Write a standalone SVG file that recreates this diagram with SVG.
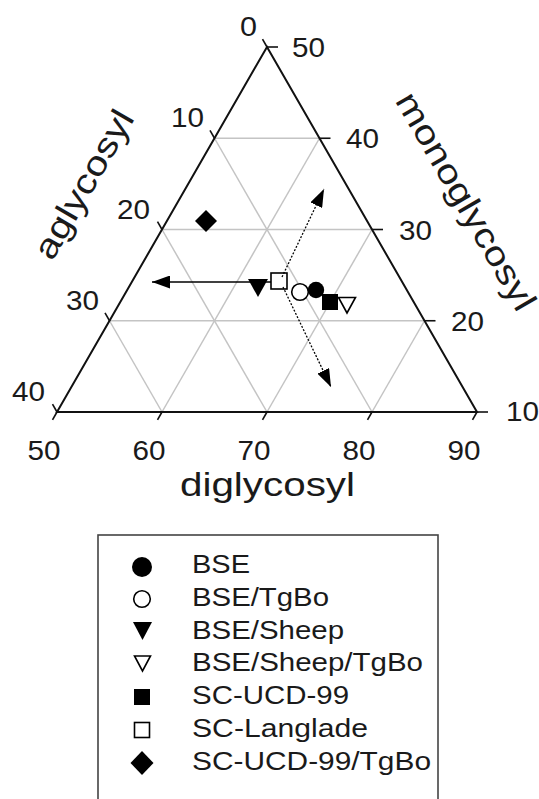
<svg xmlns="http://www.w3.org/2000/svg" width="539" height="799" viewBox="0 0 539 799">
<style>
.grid{stroke:#c4c4c4;stroke-width:1.5;fill:none}
.edge{stroke:#111;stroke-width:2;fill:none;stroke-linejoin:miter}
.tick{stroke:#111;stroke-width:1.6}
.num{font-family:"Liberation Sans",Arial,sans-serif;font-size:27px;fill:#1a1a1a}
.title{font-family:"Liberation Sans",Arial,sans-serif;font-size:34px;fill:#1a1a1a}
.title2{font-family:"Liberation Sans",Arial,sans-serif;font-size:33px;fill:#1a1a1a}
.leg{font-family:"Liberation Sans",Arial,sans-serif;font-size:26px;fill:#1a1a1a}
.fill{fill:#000;stroke:none}
.open{fill:#fff;stroke:#000;stroke-width:1.6}
.solid{stroke:#000;stroke-width:1.6;fill:none}
.dot{stroke:#000;stroke-width:1.3;fill:none;stroke-dasharray:2 1.6}
</style>
<defs>
<marker id="ah" markerUnits="userSpaceOnUse" markerWidth="18" markerHeight="13" refX="18" refY="6.5" orient="auto">
<path d="M0,0 L18,6.5 L0,13 z" fill="#000"/>
</marker>
</defs>
<rect width="539" height="799" fill="#fff"/>
<g id="grid">
<line class="grid" x1="109.5" y1="320.75" x2="424.5" y2="320.75"/>
<line class="grid" x1="162" y1="229.5" x2="372" y2="229.5"/>
<line class="grid" x1="214.5" y1="138.25" x2="319.5" y2="138.25"/>
<line class="grid" x1="162" y1="412" x2="319.5" y2="138.25"/>
<line class="grid" x1="267" y1="412" x2="372" y2="229.5"/>
<line class="grid" x1="372" y1="412" x2="424.5" y2="320.75"/>
<line class="grid" x1="162" y1="412" x2="109.5" y2="320.75"/>
<line class="grid" x1="267" y1="412" x2="162" y2="229.5"/>
<line class="grid" x1="372" y1="412" x2="214.5" y2="138.25"/>
</g>
<g id="axes">
<polygon class="edge" points="267,47 477,412 57,412"/>
<g id="ticks">
<line class="tick" x1="267" y1="47" x2="262.5" y2="39.2"/>
<line class="tick" x1="214.5" y1="138.25" x2="210" y2="130.45"/>
<line class="tick" x1="162" y1="229.5" x2="157.5" y2="221.7"/>
<line class="tick" x1="109.5" y1="320.75" x2="105" y2="312.95"/>
<line class="tick" x1="57" y1="412" x2="52.5" y2="404.2"/>
<line class="tick" x1="57" y1="412" x2="52.5" y2="419.8"/>
<line class="tick" x1="162" y1="412" x2="157.5" y2="419.8"/>
<line class="tick" x1="267" y1="412" x2="262.5" y2="419.8"/>
<line class="tick" x1="372" y1="412" x2="367.5" y2="419.8"/>
<line class="tick" x1="477" y1="412" x2="472.5" y2="419.8"/>
<line class="tick" x1="267" y1="47" x2="278" y2="47"/>
<line class="tick" x1="319.5" y1="138.25" x2="330.5" y2="138.25"/>
<line class="tick" x1="372" y1="229.5" x2="383" y2="229.5"/>
<line class="tick" x1="424.5" y1="320.75" x2="435.5" y2="320.75"/>
<line class="tick" x1="477" y1="412" x2="488" y2="412"/>
</g>
<g id="left-labels" text-anchor="end">
<text class="num" x="257" y="36" textLength="17" lengthAdjust="spacingAndGlyphs">0</text>
<text class="num" x="204" y="127" textLength="33" lengthAdjust="spacingAndGlyphs">10</text>
<text class="num" x="150" y="219" textLength="33" lengthAdjust="spacingAndGlyphs">20</text>
<text class="num" x="99" y="310" textLength="33" lengthAdjust="spacingAndGlyphs">30</text>
<text class="num" x="45" y="401" textLength="33" lengthAdjust="spacingAndGlyphs">40</text>
</g>
<g id="right-labels">
<text class="num" x="292" y="57" textLength="33" lengthAdjust="spacingAndGlyphs">50</text>
<text class="num" x="346" y="148" textLength="33" lengthAdjust="spacingAndGlyphs">40</text>
<text class="num" x="399" y="240" textLength="33" lengthAdjust="spacingAndGlyphs">30</text>
<text class="num" x="451" y="331" textLength="33" lengthAdjust="spacingAndGlyphs">20</text>
<text class="num" x="506" y="421" textLength="33" lengthAdjust="spacingAndGlyphs">10</text>
</g>
<g id="bottom-labels" text-anchor="middle">
<text class="num" x="44" y="460" textLength="33" lengthAdjust="spacingAndGlyphs">50</text>
<text class="num" x="149" y="460" textLength="33" lengthAdjust="spacingAndGlyphs">60</text>
<text class="num" x="254" y="460" textLength="33" lengthAdjust="spacingAndGlyphs">70</text>
<text class="num" x="359" y="460" textLength="33" lengthAdjust="spacingAndGlyphs">80</text>
<text class="num" x="464" y="460" textLength="33" lengthAdjust="spacingAndGlyphs">90</text>
</g>
<g id="axis-titles" text-anchor="middle">
<text class="title" transform="translate(93.7,190) rotate(-60)" x="0" y="0" textLength="166" lengthAdjust="spacingAndGlyphs">aglycosyl</text>
<text class="title" transform="translate(456,207) rotate(60)" x="0" y="0" textLength="246" lengthAdjust="spacingAndGlyphs">monoglycosyl</text>
<text class="title2" x="267.5" y="496" textLength="175" lengthAdjust="spacingAndGlyphs">diglycosyl</text>
</g>
</g>
<g id="points">
<g id="pt-sc-ucd-99-tgbo"><polygon class="fill" points="206,210 217,221 206,232 195,221"/></g>
<g id="pt-bse-sheep"><polygon class="fill" points="248,279 268,279 258,297"/></g>
<g id="pt-sc-langlade"><rect class="open" x="271" y="273" width="16" height="16"/></g>
<g id="pt-bse-tgbo"><circle class="open" cx="300" cy="292" r="8.3"/></g>
<g id="pt-bse"><circle class="fill" cx="316" cy="290" r="8.2"/></g>
<g id="pt-sc-ucd-99"><rect class="fill" x="322" y="294" width="16" height="16"/></g>
<g id="pt-bse-sheep-tgbo"><polygon class="open" points="338.5,297.5 355.5,297.5 347,313"/></g>
</g>
<g id="connectors">
<line class="solid" x1="271" y1="282" x2="152" y2="282" marker-end="url(#ah)"/>
<line class="dot" x1="282" y1="277" x2="324" y2="189" marker-end="url(#ah)"/>
<line class="dot" x1="283" y1="287" x2="331" y2="387" marker-end="url(#ah)"/>
</g>
<g id="legend">
<rect x="98" y="535" width="340" height="300" fill="#fff" stroke="#444" stroke-width="1.6"/>
<g id="leg-bse"><circle class="fill" cx="142" cy="567" r="10"/><text class="leg" x="192" y="573" textLength="58" lengthAdjust="spacingAndGlyphs">BSE</text></g>
<g id="leg-bse-tgbo"><circle class="open" cx="142" cy="599" r="8.3"/><text class="leg" x="192" y="606" textLength="137" lengthAdjust="spacingAndGlyphs">BSE/TgBo</text></g>
<g id="leg-bse-sheep"><polygon class="fill" points="133,622 152,622 142.5,640"/><text class="leg" x="192" y="638.5" textLength="152" lengthAdjust="spacingAndGlyphs">BSE/Sheep</text></g>
<g id="leg-bse-sheep-tgbo"><polygon class="open" points="134.5,656 150.5,656 142.5,671"/><text class="leg" x="192" y="671" textLength="231" lengthAdjust="spacingAndGlyphs">BSE/Sheep/TgBo</text></g>
<g id="leg-sc-ucd-99"><rect class="fill" x="134" y="689" width="16" height="16"/><text class="leg" x="192" y="704" textLength="157" lengthAdjust="spacingAndGlyphs">SC-UCD-99</text></g>
<g id="leg-sc-langlade"><rect class="open" x="134.5" y="722.5" width="15" height="15"/><text class="leg" x="192" y="737" textLength="176" lengthAdjust="spacingAndGlyphs">SC-Langlade</text></g>
<g id="leg-sc-ucd-99-tgbo"><polygon class="fill" points="142,751 153.5,763 142,775 130.5,763"/><text class="leg" x="192" y="770" textLength="239" lengthAdjust="spacingAndGlyphs">SC-UCD-99/TgBo</text></g>
</g>
</svg>
